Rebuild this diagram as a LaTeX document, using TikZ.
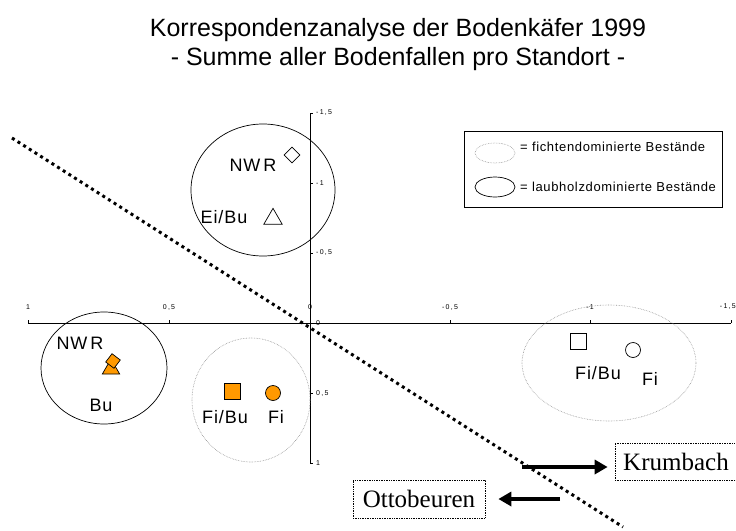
\documentclass[tikz,border=0pt]{standalone}
\usepackage{fontspec}
\setmainfont{Liberation Sans}
\newfontfamily\serifface{Liberation Serif}
\usetikzlibrary{shapes.geometric,arrows.meta}
\definecolor{orng}{HTML}{FF9900}
\definecolor{dotgray}{HTML}{909090}
\tikzset{
  ticklbl/.style={font=\fontsize{7}{8}\selectfont\addfontfeature{LetterSpace=18}, inner sep=0pt},
  ptlbl/.style={font=\fontsize{18}{20}\selectfont\addfontfeature{LetterSpace=5}, inner sep=0pt},
  laub/.style={draw=black, line width=0.7pt},
  ficht/.style={draw=dotgray, densely dotted, line width=0.6pt},
  mk/.style={draw=black, line width=0.7pt, inner sep=0pt},
  sitebox/.style={draw=black, densely dotted, line width=0.7pt, font=\serifface\fontsize{25}{28}\selectfont, inner sep=3pt},
  bigarrow/.style={line width=4pt, -{Triangle[length=13pt,width=14pt]}},
  leglbl/.style={font=\fontsize{13}{15}\selectfont\addfontfeature{LetterSpace=5}, inner sep=0pt, anchor=west},
  titlelbl/.style={font=\fontsize{25}{30}\selectfont, inner sep=0pt, anchor=base},
}
\begin{document}
\begin{tikzpicture}[x=1pt,y=-1pt]
\useasboundingbox (0,0) rectangle (736,530);
% title
\node[titlelbl] (title) at (398,36) {Korrespondenzanalyse der Bodenkäfer 1999};
\node[titlelbl] (subtitle) at (398,65) {- Summe aller Bodenfallen pro Standort -};
% axes
\draw[line width=0.6pt] (28,323) -- (731,323);
\draw[line width=0.6pt] (310,113) -- (310,463);
\foreach \x/\l in {28/1,169/{0,5},310/0,450/{-0,5},590/{-1}} {
  \draw[line width=0.6pt] (\x,323) -- (\x,320);
  \node[ticklbl] at (\x,307) {\l};
}
\draw[line width=0.6pt] (731,323) -- (731,320);
\node[ticklbl, anchor=east] (tlast) at (736,307) {-1,5};
\foreach \y/\l in {113/{-1,5},183/{-1},253/{-0,5},323/0,393/{0,5},463/1} {
  \draw[line width=0.6pt] (310,\y) -- (313,\y);
  \node[ticklbl, anchor=west] at (316,\y) {\l};
}
% ellipses
\node[laub, ellipse, minimum width=144pt, minimum height=132pt] (e1) at (263,190) {};
\node[laub, ellipse, minimum width=126pt, minimum height=112pt] (e2) at (104,368) {};
\node[ficht, ellipse, minimum width=118pt, minimum height=124pt] (e3) at (251,400) {};
\node[ficht, ellipse, minimum width=174pt, minimum height=116pt] (e4) at (609,363) {};
% dividing line
\coordinate (d1) at (12,138);
\coordinate (d2) at (623,527);
\draw[line width=3pt, dash pattern=on 3pt off 3.7pt] (d1) -- (d2);
% top group
\node[mk, diamond, fill=white, minimum size=16pt] (m1) at (292,155) {};
\node[ptlbl] (l1) at (253,165) {NW\,R};
\node[mk, isosceles triangle, isosceles triangle apex angle=60, shape border rotate=90, fill=white, minimum size=16pt] (m2) at (273,219) {};
\node[ptlbl] (l2) at (224,217) {Ei/Bu};
% left group
\node[ptlbl] (l3) at (80,343) {NW\,R};
\node[mk, isosceles triangle, isosceles triangle apex angle=60, shape border rotate=90, fill=orng, minimum size=15pt] (m3) at (111,369) {};
\node[mk, diamond, fill=orng, minimum size=15pt, rotate=8] (m4) at (113,361) {};
\node[ptlbl] (l4) at (101,405) {Bu};
% middle group
\node[mk, rectangle, fill=orng, minimum size=16pt] (m5) at (232,391) {};
\node[mk, circle, fill=orng, minimum size=15pt] (m6) at (273,393) {};
\node[ptlbl] (l5) at (225,417) {Fi/Bu};
\node[ptlbl] (l6) at (276,417) {Fi};
% right group
\node[mk, rectangle, fill=white, minimum size=16pt] (m7) at (578,341) {};
\node[mk, circle, fill=white, minimum size=15pt] (m8) at (633,350) {};
\node[ptlbl] (l7) at (598,373) {Fi/Bu};
\node[ptlbl] (l8) at (650,379) {Fi};
% legend
\node[draw=black, line width=0.7pt, minimum width=258pt, minimum height=76pt, inner sep=0pt] (leg) at (593,169) {};
\node[ficht, ellipse, minimum width=40pt, minimum height=20pt] (le1) at (495,153) {};
\node[leglbl] (lt1) at (520,147) {= fichtendominierte Bestände};
\node[laub, ellipse, minimum width=40pt, minimum height=20pt] (le2) at (495,187) {};
\node[leglbl] (lt2) at (520,187) {= laubholzdominierte Bestände};
% site boxes
\node[sitebox, minimum width=122pt, minimum height=37pt] (krum) at (676,461.5) {Krumbach};
\node[sitebox, minimum width=132pt, minimum height=38pt] (otto) at (419,499) {Ottobeuren};
\coordinate (a1) at (522,467);
\coordinate (a2) at (560,499);
\draw[bigarrow] (a1) -- ([xshift=-7pt]krum.west |- a1);
\draw[bigarrow] (a2) -- ([xshift=13pt]otto.east |- a2);
\end{tikzpicture}
\end{document}
